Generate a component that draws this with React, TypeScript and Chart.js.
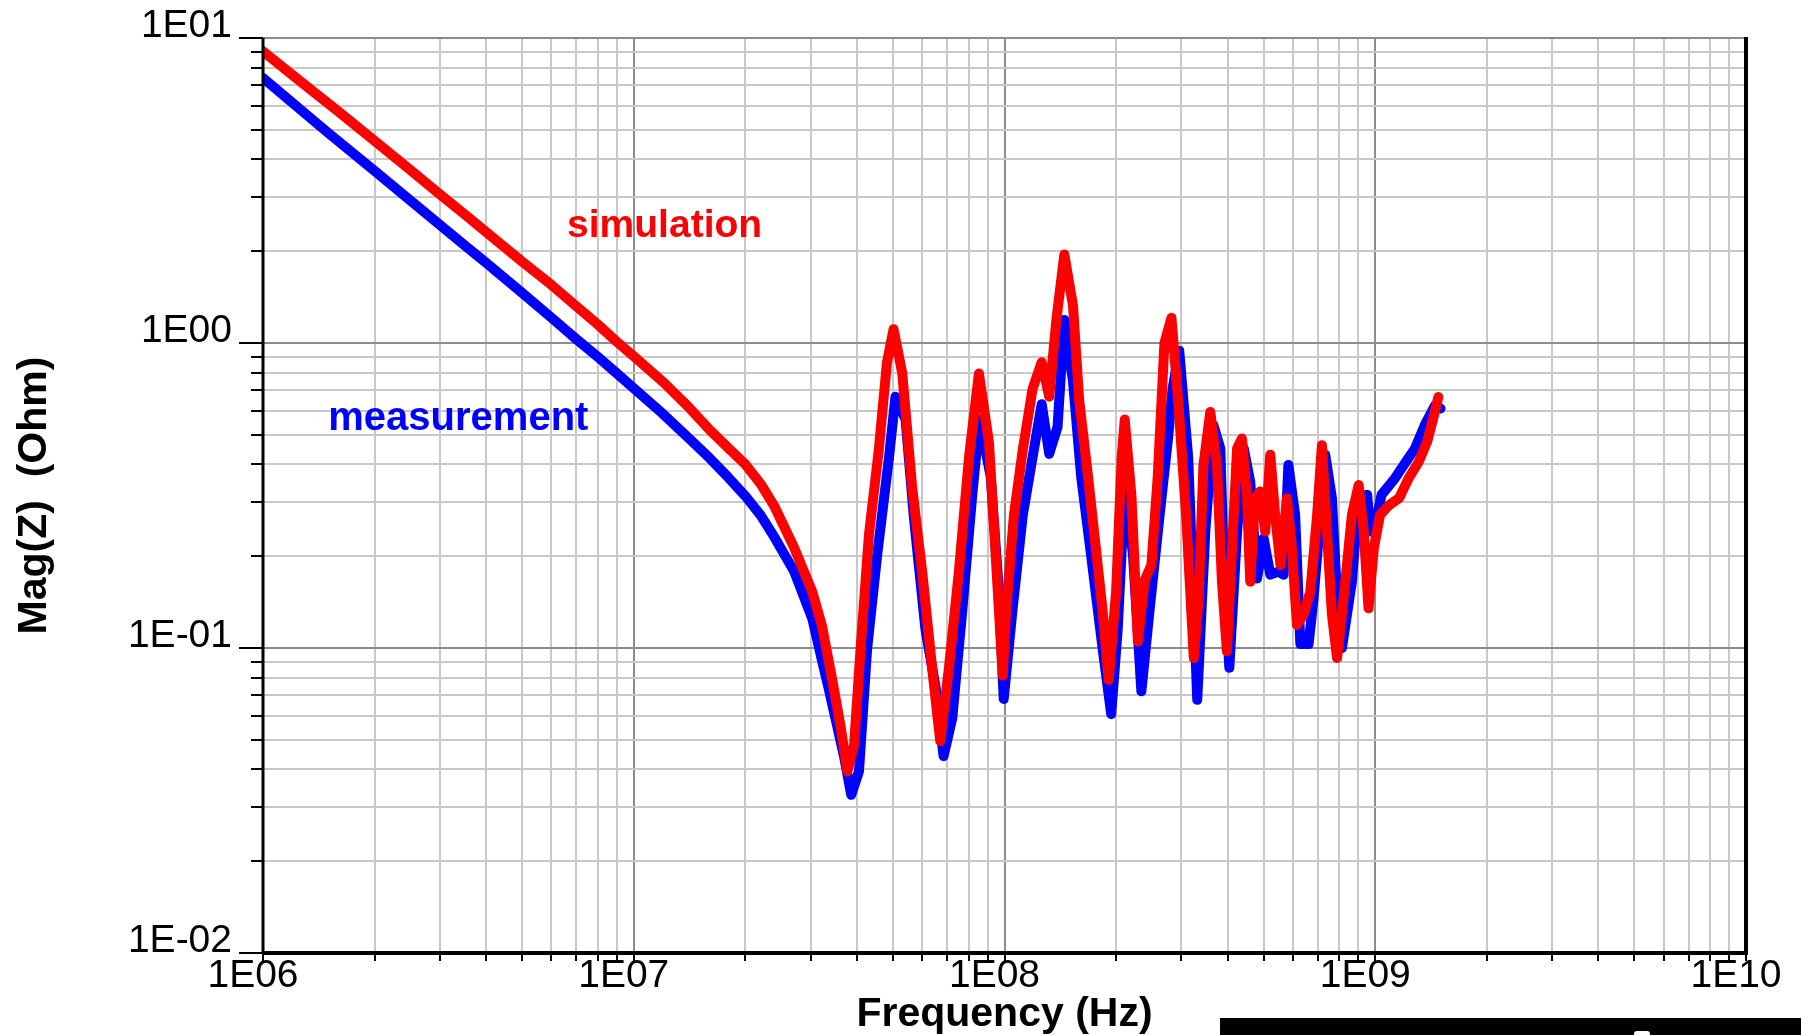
import React, { useEffect, useRef } from 'react';
import { Chart, registerables } from 'chart.js';

Chart.register(...registerables);

// ---- data ----
const simFreqHz = [
  1.00e6, 1.30e6, 1.60e6, 2.00e6, 2.50e6, 3.00e6, 3.50e6, 4.00e6, 5.00e6, 6.00e6,
  7.00e6, 8.00e6, 9.00e6, 1.00e7, 1.20e7, 1.40e7, 1.60e7, 1.80e7, 2.00e7, 2.20e7,
  2.40e7, 2.70e7, 3.03e7, 3.22e7,
  3.43e7, 3.61e7, 3.77e7, 3.93e7, 4.09e7, 4.31e7, 4.58e7, 4.82e7, 5.02e7, 5.30e7,
  5.64e7, 6.00e7, 6.38e7, 6.71e7, 7.08e7, 7.53e7, 8.02e7, 8.53e7, 9.08e7, 9.46e7,
  9.89e7, 1.01e8, 1.06e8, 1.12e8, 1.19e8, 1.26e8, 1.32e8, 1.38e8, 1.45e8, 1.53e8,
  1.59e8, 1.68e8, 1.77e8, 1.84e8, 1.91e8, 2.00e8, 2.07e8, 2.11e8, 2.20e8, 2.29e8,
  2.39e8, 2.49e8, 2.59e8, 2.70e8, 2.82e8, 2.94e8, 3.09e8, 3.24e8, 3.34e8, 3.44e8,
  3.59e8, 3.74e8, 3.86e8, 3.98e8, 4.11e8, 4.24e8, 4.37e8, 4.51e8, 4.60e8, 4.74e8,
  4.89e8, 5.05e8, 5.21e8, 5.37e8, 5.55e8, 5.78e8, 5.96e8, 6.15e8, 6.41e8, 6.68e8,
  6.97e8, 7.18e8, 7.41e8, 7.64e8, 7.89e8, 8.22e8, 8.65e8, 9.02e8, 9.31e8, 9.59e8,
  9.91e8, 1.03e9, 1.09e9, 1.16e9, 1.23e9, 1.31e9, 1.38e9, 1.44e9, 1.48e9,
];
const simMagOhm = [
  9.04, 7.00, 5.73, 4.60, 3.69, 3.07, 2.64, 2.31, 1.85, 1.55,
  1.32, 1.15, 1.01, 0.905, 0.745, 0.620, 0.520, 0.452, 0.400, 0.345,
  0.290, 0.215, 0.153, 0.118,
  0.0787, 0.0556, 0.0394, 0.0482, 0.0991, 0.236, 0.446, 0.865, 1.11, 0.794,
  0.333, 0.177, 0.0859, 0.0495, 0.0859, 0.177, 0.421, 0.794, 0.472, 0.204,
  0.0813, 0.132, 0.272, 0.446, 0.706, 0.865, 0.667, 1.19, 1.95, 1.33,
  0.649, 0.364, 0.204, 0.132, 0.0787, 0.153, 0.421, 0.561, 0.315, 0.105,
  0.167, 0.187, 0.364, 1.00, 1.21, 0.649, 0.272, 0.0927, 0.146, 0.398,
  0.594, 0.398, 0.165, 0.0975, 0.212, 0.451, 0.486, 0.310, 0.165, 0.310,
  0.326, 0.241, 0.430, 0.273, 0.187, 0.310, 0.212, 0.119, 0.129, 0.153,
  0.273, 0.462, 0.241, 0.129, 0.0927, 0.146, 0.273, 0.342, 0.241, 0.135,
  0.212, 0.273, 0.294, 0.310, 0.360, 0.408, 0.474, 0.579, 0.665,
];
const measFreqHz = [
  1.00e6, 1.50e6, 2.00e6, 2.50e6, 3.00e6, 3.50e6, 4.00e6, 5.00e6, 6.00e6, 7.00e6,
  8.00e6, 9.00e6, 1.00e7, 1.20e7, 1.40e7, 1.60e7, 1.80e7, 2.00e7, 2.20e7, 2.40e7,
  2.71e7, 3.03e7, 3.22e7, 3.35e7, 3.69e7, 3.86e7, 4.05e7,
  4.26e7, 4.54e7, 4.88e7, 5.08e7, 5.41e7, 5.69e7, 6.12e7, 6.52e7, 6.85e7, 7.23e7,
  7.69e7, 8.18e7, 8.57e7, 9.18e7, 9.66e7, 9.95e7, 1.05e8, 1.12e8, 1.19e8, 1.26e8,
  1.32e8, 1.39e8, 1.45e8, 1.53e8, 1.61e8, 1.71e8, 1.84e8, 1.94e8, 2.02e8, 2.11e8,
  2.22e8, 2.34e8, 2.46e8, 2.62e8, 2.76e8, 2.84e8, 2.96e8, 3.13e8, 3.31e8, 3.48e8,
  3.66e8, 3.82e8, 3.90e8, 4.04e8, 4.24e8, 4.42e8, 4.60e8, 4.80e8, 5.00e8, 5.21e8,
  5.48e8, 5.66e8, 5.83e8, 6.08e8, 6.28e8, 6.61e8, 6.82e8, 7.18e8, 7.33e8, 7.64e8,
  7.89e8, 8.13e8, 8.65e8, 9.02e8, 9.51e8, 9.70e8, 1.00e9, 1.04e9, 1.13e9, 1.21e9,
  1.28e9, 1.36e9, 1.45e9, 1.50e9,
];
const measMagOhm = [
  7.39, 4.88, 3.67, 2.93, 2.44, 2.09, 1.83, 1.46, 1.21, 1.03,
  0.900, 0.795, 0.710, 0.585, 0.490, 0.420, 0.362, 0.315, 0.272, 0.230,
  0.178, 0.125, 0.091, 0.0743, 0.0442, 0.0330, 0.0394,
  0.0991, 0.204, 0.421, 0.667, 0.561, 0.272, 0.115, 0.0743, 0.0442, 0.0589,
  0.132, 0.315, 0.561, 0.364, 0.153, 0.0681, 0.132, 0.272, 0.421, 0.630,
  0.433, 0.530, 1.19, 0.750, 0.364, 0.204, 0.0991, 0.0607, 0.115, 0.333,
  0.204, 0.0721, 0.132, 0.272, 0.485, 0.706, 0.944, 0.421, 0.0676, 0.241,
  0.538, 0.451, 0.197, 0.0861, 0.241, 0.451, 0.351, 0.169, 0.229, 0.174,
  0.178, 0.174, 0.398, 0.273, 0.103, 0.103, 0.146, 0.310, 0.430, 0.310,
  0.146, 0.100, 0.165, 0.310, 0.318, 0.241, 0.254, 0.318, 0.360, 0.408,
  0.451, 0.538, 0.625, 0.610,
];

const xDecades = [1e6, 1e7, 1e8, 1e9, 1e10];
const xTickLabels = ['1E06', '1E07', '1E08', '1E09', '1E10'];
const yDecades = [0.01, 0.1, 1, 10];
const yTickLabels = ['1E-02', '1E-01', '1E00', '1E01'];
const seriesNames = ['simulation', 'measurement'];
const seriesColors = ['#ff0000', '#0000ff'];
const xTitle = 'Frequency (Hz)';
const yTitle = 'Mag(Z)  (Ohm)';
// annotation anchors in data units (frequency Hz, magnitude Ohm) = text left / baseline
const simLabelAnchor = [6.61e6, 2.23];
const measLabelAnchor = [1.50e6, 0.519];

const FONT = '"Liberation Sans", Arial, sans-serif';

function logTicks(decades: number[]) {
  const out: { value: number }[] = [];
  for (let i = 0; i < decades.length; i++) {
    const d = decades[i];
    out.push({ value: d });
    if (i < decades.length - 1) {
      for (let m = 2; m <= 9; m++) out.push({ value: d * m });
    }
  }
  return out;
}

function decadeIndex(v: number, decades: number[]) {
  for (let i = 0; i < decades.length; i++) {
    if (Math.abs(Math.log10(v) - Math.log10(decades[i])) < 1e-6) return i;
  }
  return -1;
}

const framePlugin = {
  id: 'framePlugin',
  afterDraw(chart: any) {
    const { ctx, chartArea: a, scales } = chart;
    const xs = scales.x;
    const ys = scales.y;
    const line = (x1: number, y1: number, x2: number, y2: number) => {
      ctx.beginPath();
      ctx.moveTo(x1, y1);
      ctx.lineTo(x2, y2);
      ctx.stroke();
    };
    ctx.save();
    // top border
    ctx.strokeStyle = '#8c8c8c';
    ctx.lineWidth = 2;
    line(a.left, a.top, a.right, a.top);
    // tick marks
    ctx.strokeStyle = '#000';
    ctx.lineWidth = 2;
    ys.ticks.forEach((t: any) => {
      const y = Math.round(ys.getPixelForValue(t.value));
      const len = decadeIndex(t.value, yDecades) >= 0 ? 24 : 12;
      line(a.left - len, y, a.left, y);
    });
    xs.ticks.forEach((t: any) => {
      const x = Math.round(xs.getPixelForValue(t.value));
      line(x, a.bottom, x, a.bottom + 8);
    });
    // axes
    ctx.lineWidth = 3;
    line(a.left, a.top, a.left, a.bottom + 1);
    ctx.lineWidth = 4;
    line(a.left, a.bottom, a.right + 2, a.bottom);
    line(a.right, a.top - 1, a.right, a.bottom);
    // series annotations
    ctx.textBaseline = 'alphabetic';
    ctx.textAlign = 'left';
    ctx.font = `bold 39px ${FONT}`;
    ctx.fillStyle = seriesColors[0];
    ctx.fillText(seriesNames[0], xs.getPixelForValue(simLabelAnchor[0]), ys.getPixelForValue(simLabelAnchor[1]));
    ctx.font = `bold 40px ${FONT}`;
    ctx.fillStyle = seriesColors[1];
    ctx.fillText(seriesNames[1], xs.getPixelForValue(measLabelAnchor[0]), ys.getPixelForValue(measLabelAnchor[1]));
    ctx.restore();
  },
};

export default function App() {
  const canvasRef = useRef<HTMLCanvasElement | null>(null);

  useEffect(() => {
    const canvas = canvasRef.current;
    if (!canvas) return;
    const simData = simFreqHz.map((f, i) => ({ x: f, y: simMagOhm[i] }));
    const measData = measFreqHz.map((f, i) => ({ x: f, y: measMagOhm[i] }));
    const gridColor = (decades: number[]) => (c: any) =>
      c.tick && decadeIndex(c.tick.value, decades) >= 0 ? '#8c8c8c' : '#c8c8c8';

    const chart = new Chart(canvas, {
      type: 'line',
      data: {
        datasets: [
          {
            label: seriesNames[0],
            data: simData,
            borderColor: seriesColors[0],
            backgroundColor: seriesColors[0],
            borderWidth: 10,
            pointRadius: 0,
            tension: 0,
            borderJoinStyle: 'round',
            borderCapStyle: 'round',
            order: 0,
          },
          {
            label: seriesNames[1],
            data: measData,
            borderColor: seriesColors[1],
            backgroundColor: seriesColors[1],
            borderWidth: 10,
            pointRadius: 0,
            tension: 0,
            borderJoinStyle: 'round',
            borderCapStyle: 'round',
            order: 1,
          },
        ],
      },
      options: {
        responsive: false,
        animation: false,
        devicePixelRatio: 1,
        layout: { padding: { top: 38, right: 55, left: 0, bottom: 0 } },
        plugins: {
          legend: { display: false },
          tooltip: { enabled: false },
          title: { display: false },
        },
        scales: {
          x: {
            type: 'logarithmic',
            min: 1e6,
            max: 1e10,
            afterBuildTicks: (s: any) => {
              s.ticks = logTicks(xDecades);
            },
            afterFit: (s: any) => {
              s.height = 82;
              s.paddingLeft = 0;
              s.paddingRight = 0;
            },
            grid: {
              color: gridColor(xDecades),
              lineWidth: 2,
              drawTicks: false,
            },
            border: { display: false },
            ticks: {
              autoSkip: false,
              maxRotation: 0,
              minRotation: 0,
              padding: 0,
              labelOffset: -10,
              color: '#000',
              font: { family: FONT, size: 39 },
              callback: (v: any) => {
                const i = decadeIndex(Number(v), xDecades);
                return i >= 0 ? xTickLabels[i] : '';
              },
            },
            title: {
              display: true,
              text: xTitle,
              color: '#000',
              font: { family: FONT, size: 41, weight: 'bold', lineHeight: 1 },
              padding: { top: 0, bottom: 0 },
            },
          },
          y: {
            type: 'logarithmic',
            min: 0.01,
            max: 10,
            afterBuildTicks: (s: any) => {
              s.ticks = logTicks(yDecades);
            },
            afterFit: (s: any) => {
              s.width = 263;
              s.paddingTop = 0;
              s.paddingBottom = 0;
            },
            grid: {
              color: gridColor(yDecades),
              lineWidth: 2,
              drawTicks: false,
            },
            border: { display: false },
            ticks: {
              autoSkip: false,
              padding: 31,
              labelOffset: -12,
              color: '#000',
              font: { family: FONT, size: 39 },
              callback: (v: any) => {
                const i = decadeIndex(Number(v), yDecades);
                return i >= 0 ? yTickLabels[i] : '';
              },
            },
            title: {
              display: true,
              text: yTitle,
              color: '#000',
              font: { family: FONT, size: 41, weight: 'bold', lineHeight: 1.2 },
              padding: { top: 10, bottom: 0 },
            },
          },
        },
      },
      plugins: [framePlugin],
    } as any);
    return () => chart.destroy();
  }, []);

  return (
    <div style={{ position: 'absolute', left: 0, top: 0, width: 1801, height: 1035, background: '#fff', overflow: 'hidden' }}>
      <canvas ref={canvasRef} width={1801} height={1035} style={{ display: 'block', width: 1801, height: 1035 }} />
      <div style={{ position: 'absolute', left: 1220, top: 1018, width: 581, height: 17, background: '#000' }} />
      <div style={{ position: 'absolute', left: 1634, top: 1031, width: 16, height: 6, background: '#fff', borderRadius: 4 }} />
    </div>
  );
}
